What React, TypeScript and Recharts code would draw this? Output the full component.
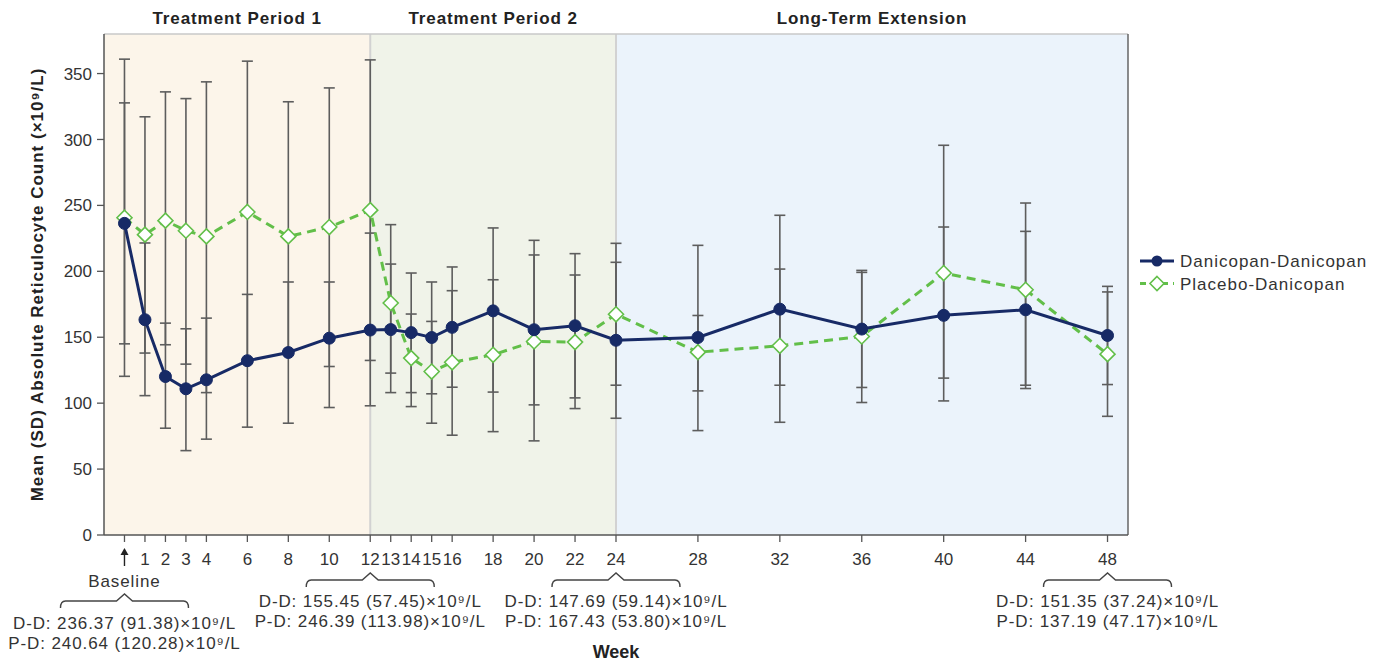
import React from 'react';
import {
  LineChart,
  Line,
  XAxis,
  YAxis,
  ErrorBar,
  ReferenceArea,
  ReferenceLine,
  ReferenceDot,
  Legend,
} from 'recharts';

const weeks = [0, 1, 2, 3, 4, 6, 8, 10, 12, 13, 14, 15, 16, 18, 20, 22, 24, 28, 32, 36, 40, 44, 48];

// Danicopan-Danicopan: mean and SD bar ends
const ddMean = [236.37, 163.3, 120.2, 110.9, 117.7, 132.2, 138.4, 149.3, 155.45, 155.8, 153.5, 149.8, 157.5, 170.0, 155.7, 158.7, 147.69, 149.8, 171.3, 156.2, 166.6, 170.8, 151.35];
const ddLow = [144.99, 105.7, 81.0, 64.0, 72.7, 81.8, 84.8, 96.7, 98.0, 108.0, 108.0, 107.1, 112.1, 108.4, 98.7, 104.0, 88.55, 79.2, 113.6, 111.9, 101.7, 111.1, 114.11];
const ddHigh = [327.75, 221.5, 160.7, 156.4, 164.5, 182.5, 191.9, 191.9, 229.0, 205.5, 198.7, 191.9, 203.3, 232.9, 212.4, 213.4, 206.83, 219.7, 242.5, 200.7, 233.6, 230.3, 188.59];

// Placebo-Danicopan
const pdMean = [240.64, 227.8, 238.4, 230.8, 226.5, 245.0, 226.5, 233.6, 246.39, 176.0, 134.2, 124.0, 131.0, 136.7, 146.8, 146.3, 167.43, 138.7, 143.5, 150.6, 198.7, 186.0, 137.19];
const pdLow = [120.36, 138.0, 144.3, 129.6, 108.0, 130.6, 138.0, 127.8, 132.41, 122.8, 97.4, 84.8, 75.7, 78.4, 71.4, 95.9, 113.63, 109.3, 85.5, 100.5, 119.0, 113.6, 90.02];
const pdHigh = [360.92, 317.2, 336.1, 331.0, 343.7, 359.4, 328.6, 339.1, 360.37, 235.4, 167.6, 162.0, 185.3, 193.6, 223.5, 197.2, 221.23, 166.5, 201.7, 199.2, 295.6, 251.8, 184.36];

const yTicks = [0, 50, 100, 150, 200, 250, 300, 350];

const periodNames = ['Treatment Period 1', 'Treatment Period 2', 'Long-Term Extension'];
const periodStart = [-1, 12, 24];
const periodEnd = [12, 24, 49];

const summaryWeeks = [0, 12, 24, 48];
const summaryDD = ['236.37 (91.38)', '155.45 (57.45)', '147.69 (59.14)', '151.35 (37.24)'];
const summaryPD = ['240.64 (120.28)', '246.39 (113.98)', '167.43 (53.80)', '137.19 (47.17)'];

const seriesNames = ['Danicopan-Danicopan', 'Placebo-Danicopan'];

const NAVY = '#172a66';
const GREEN = '#62bf49';
const FONT = '"Liberation Sans", Arial, sans-serif';
const periodFills = ['#fcf5ea', '#f0f3e9', '#ebf3fb'];

const data = weeks.map((w, i) => ({
  week: w,
  dd: ddMean[i],
  pd: pdMean[i],
  ddErr: [ddMean[i] - ddLow[i], ddHigh[i] - ddMean[i]],
  pdErr: [pdMean[i] - pdLow[i], pdHigh[i] - pdMean[i]],
}));

const Diamond = (props: any) => {
  const { cx, cy, index } = props;
  const s = 7.5;
  return (
    <path
      key={`pd-dot-${index}`}
      d={`M${cx},${cy - s}L${cx + s},${cy}L${cx},${cy + s}L${cx - s},${cy}Z`}
      fill="#fff"
      stroke={GREEN}
      strokeWidth={1.6}
    />
  );
};

const WeekTick = (props: any) => {
  const { x, y, payload } = props;
  if (payload.value === 0) {
    return (
      <g>
        <line x1={x} x2={x} y1={y + 8} y2={y + 22} stroke="#222" strokeWidth={1.4} />
        <path d={`M${x - 4},${y + 11}L${x},${y + 4}L${x + 4},${y + 11}Z`} fill="#222" />
      </g>
    );
  }
  return (
    <text x={x} y={y + 21} textAnchor="middle" fontSize={17} fill="#333" fontFamily={FONT}>
      {payload.value}
    </text>
  );
};

const HeaderLabel = (props: any) => {
  const vb = props.viewBox;
  return (
    <text
      x={vb.x + vb.width / 2}
      y={vb.y - 10}
      textAnchor="middle"
      fontSize={17}
      fontWeight={700}
      fill="#222"
      fontFamily={FONT}
      letterSpacing={0.9}
    >
      {props.text}
    </text>
  );
};

const YTitle = (props: any) => {
  const vb = props.viewBox;
  const x = vb.x + 9;
  const y = vb.y + vb.height / 2;
  return (
    <text
      x={x}
      y={y}
      transform={`rotate(-90, ${x}, ${y})`}
      textAnchor="middle"
      fontSize={17}
      fontWeight={700}
      fill="#222"
      fontFamily={FONT}
      letterSpacing={1}
    >
      Mean (SD) Absolute Reticulocyte Count (×10⁹/L)
    </text>
  );
};

const WeekTitle = (props: any) => {
  const vb = props.viewBox;
  return (
    <text
      x={vb.x + vb.width / 2}
      y={vb.y + 123}
      textAnchor="middle"
      fontSize={18}
      fontWeight={700}
      fill="#222"
      fontFamily={FONT}
    >
      Week
    </text>
  );
};

// brace + summary text under the axis at a given week
const Summary = (props: any) => {
  const { cx, cy, idx } = props;
  const isBaseline = summaryWeeks[idx] === 0;
  const h = cy + (isBaseline ? 66 : 45);
  const l = cx - 64;
  const r = cx + 64;
  const t1 = cy + (isBaseline ? 94 : 72);
  const textProps = {
    textAnchor: 'middle' as const,
    fontSize: 17,
    fill: '#333',
    fontFamily: FONT,
    letterSpacing: 0.9,
  };
  return (
    <g>
      {isBaseline && (
        <text x={cx} y={cy + 52} {...textProps}>
          Baseline
        </text>
      )}
      <path
        d={`M${l},${h + 7}Q${l},${h} ${l + 5},${h}L${cx - 8},${h}L${cx},${h - 7}L${cx + 8},${h}L${r - 5},${h}Q${r},${h} ${r},${h + 7}`}
        fill="none"
        stroke="#444"
        strokeWidth={1.4}
      />
      <text x={cx} y={t1} {...textProps}>
        {`D-D: ${summaryDD[idx]}×10⁹/L`}
      </text>
      <text x={cx} y={t1 + 20} {...textProps}>
        {`P-D: ${summaryPD[idx]}×10⁹/L`}
      </text>
    </g>
  );
};

const LegendBox = () => (
  <svg width={245} height={50} style={{ display: 'block' }}>
    {seriesNames.map((name, i) => {
      const y = 11 + i * 22.5;
      const isDD = i === 0;
      return (
        <g key={name}>
          <line
            x1={2}
            x2={36}
            y1={y}
            y2={y}
            stroke={isDD ? NAVY : GREEN}
            strokeWidth={3}
            strokeDasharray={isDD ? undefined : '6 5'}
          />
          {isDD ? (
            <circle cx={19} cy={y} r={5.5} fill={NAVY} />
          ) : (
            <path d={`M19,${y - 7}L26,${y}L19,${y + 7}L12,${y}Z`} fill="#fff" stroke={GREEN} strokeWidth={1.6} />
          )}
          <text x={42} y={y + 6} fontSize={17} fill="#333" fontFamily={FONT} letterSpacing={1}>
            {name}
          </text>
        </g>
      );
    })}
  </svg>
);

const App: React.FC = () => {
  return (
    <div style={{ position: 'absolute', left: 0, top: 0, background: '#fff' }}>
      <LineChart
        width={1387}
        height={665}
        data={data}
        margin={{ top: 34, right: 259, bottom: 100, left: 34 }}
      >
        {periodNames.map((name, i) => (
          <ReferenceArea
            key={name}
            x1={periodStart[i]}
            x2={periodEnd[i]}
            y1={0}
            y2={380}
            fill={periodFills[i]}
            fillOpacity={1}
            stroke="none"
            label={<HeaderLabel text={name} />}
          />
        ))}
        <ReferenceLine x={12} stroke="#d2d2d2" strokeWidth={2} />
        <ReferenceLine x={24} stroke="#d2d2d2" strokeWidth={2} />
        <ReferenceLine y={380} stroke="#c9c9c9" strokeWidth={1.5} />
        <ReferenceLine x={49} stroke="#666" strokeWidth={1.5} />
        <XAxis
          dataKey="week"
          type="number"
          domain={[-1, 49]}
          ticks={weeks}
          interval={0}
          height={30}
          tick={<WeekTick />}
          tickSize={7}
          tickLine={{ stroke: '#555', strokeWidth: 1.3 }}
          axisLine={{ stroke: '#555', strokeWidth: 1.5 }}
          allowDataOverflow
          label={<WeekTitle />}
        />
        <YAxis
          type="number"
          domain={[0, 380]}
          ticks={yTicks}
          interval={0}
          width={70}
          tickSize={7}
          tickMargin={5}
          tick={{ fontSize: 17, fill: '#333', fontFamily: FONT }}
          tickLine={{ stroke: '#555', strokeWidth: 1.3 }}
          axisLine={{ stroke: '#555', strokeWidth: 1.5 }}
          allowDataOverflow
          label={<YTitle />}
        />
        <Legend
          layout="vertical"
          verticalAlign="middle"
          align="center"
          wrapperStyle={{ left: 1138, top: 250, width: 245 }}
          content={() => <LegendBox />}
        />
        <Line
          dataKey="dd"
          stroke="none"
          strokeWidth={0}
          dot={false}
          activeDot={false}
          legendType="none"
          isAnimationActive={false}
        >
          <ErrorBar dataKey="ddErr" width={5.5} stroke="#5d5d5d" strokeWidth={1.6} isAnimationActive={false} />
        </Line>
        <Line
          dataKey="pd"
          stroke="none"
          strokeWidth={0}
          dot={false}
          activeDot={false}
          legendType="none"
          isAnimationActive={false}
        >
          <ErrorBar dataKey="pdErr" width={5.5} stroke="#5d5d5d" strokeWidth={1.6} isAnimationActive={false} />
        </Line>
        <Line
          dataKey="pd"
          name={seriesNames[1]}
          stroke={GREEN}
          strokeWidth={3}
          strokeDasharray="9 6"
          dot={Diamond}
          activeDot={false}
          isAnimationActive={false}
        />
        <Line
          dataKey="dd"
          name={seriesNames[0]}
          stroke={NAVY}
          strokeWidth={3}
          dot={{ r: 6, fill: NAVY, stroke: NAVY, strokeWidth: 1 }}
          activeDot={false}
          isAnimationActive={false}
        />
        {summaryWeeks.map((w, i) => (
          <ReferenceDot
            key={`sum-${w}`}
            x={w}
            y={0}
            ifOverflow="visible"
            shape={(p: any) => <Summary cx={p.cx} cy={p.cy} idx={i} />}
          />
        ))}
      </LineChart>
    </div>
  );
};

export default App;
